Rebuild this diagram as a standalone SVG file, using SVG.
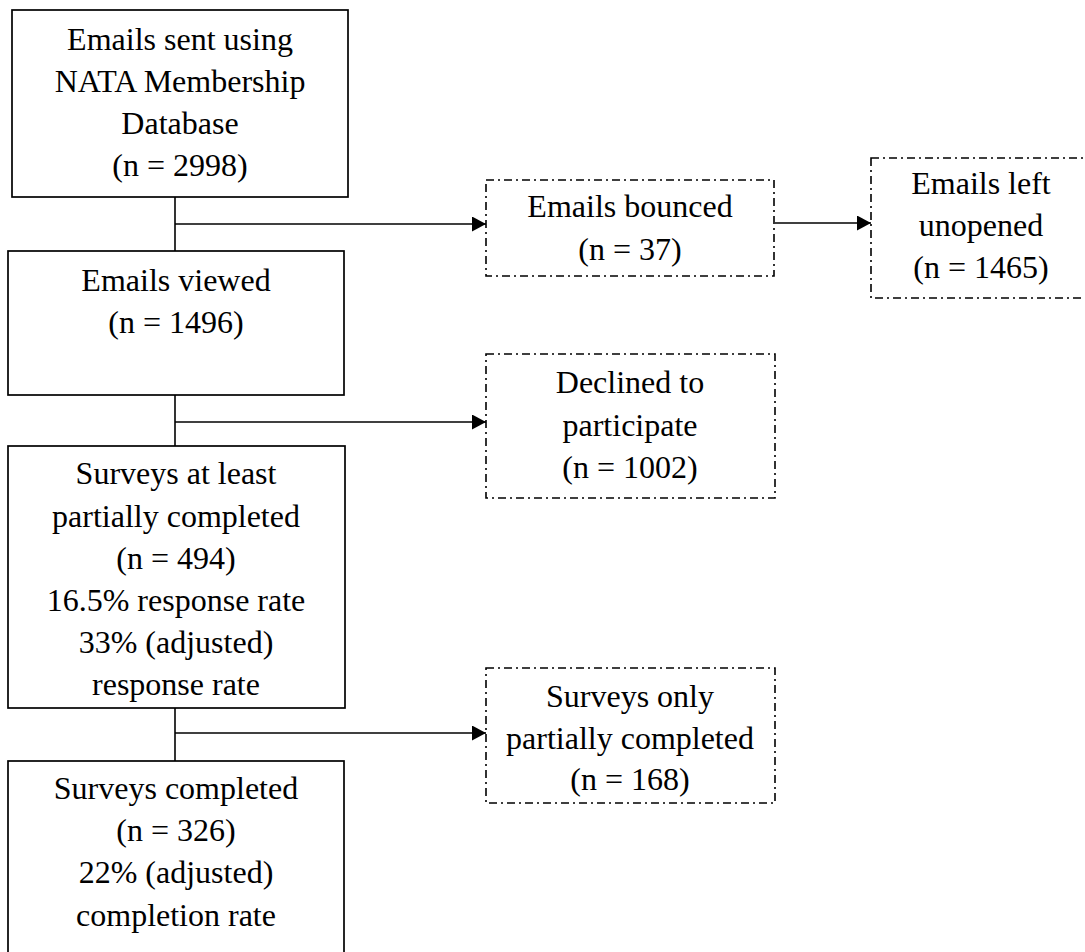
<svg xmlns="http://www.w3.org/2000/svg" width="1085" height="952" viewBox="0 0 1085 952">
<style>
.solid{fill:#fff;stroke:#000;stroke-width:1.7}
.dash{fill:#fff;stroke:#000;stroke-width:1.6;stroke-dasharray:8,4,2,4}
.conn{fill:none;stroke:#000;stroke-width:1.6}
text{font-family:"Liberation Serif","Times New Roman",serif;font-size:32px;fill:#000;text-anchor:middle}
</style>
<defs>
<marker id="ah" markerUnits="userSpaceOnUse" markerWidth="14" markerHeight="15" refX="14" refY="7.5" orient="auto">
<path d="M0,0 L14,7.5 L0,15 Z" fill="#000"/>
</marker>
</defs>
<rect width="1085" height="952" fill="#fff"/>
<g id="connectors">
<line class="conn" x1="175" y1="197" x2="175" y2="251"/>
<line class="conn" x1="175" y1="224" x2="486" y2="224" marker-end="url(#ah)"/>
<line class="conn" x1="775" y1="223" x2="871" y2="223" marker-end="url(#ah)"/>
<line class="conn" x1="175" y1="395" x2="175" y2="446"/>
<line class="conn" x1="175" y1="422" x2="486" y2="422" marker-end="url(#ah)"/>
<line class="conn" x1="175" y1="708" x2="175" y2="761"/>
<line class="conn" x1="175" y1="733" x2="486" y2="733" marker-end="url(#ah)"/>
</g>
<g id="n1">
<rect class="solid" x="12" y="10" width="336" height="187"/>
<text x="180" y="50">Emails sent using</text>
<text x="180" y="92">NATA Membership</text>
<text x="180" y="134">Database</text>
<text x="180" y="176">(n = 2998)</text>
</g>
<g id="n2">
<rect class="solid" x="8" y="251" width="336" height="144"/>
<text x="176" y="291">Emails viewed</text>
<text x="176" y="333">(n = 1496)</text>
</g>
<g id="n3">
<rect class="solid" x="8" y="446" width="337" height="262"/>
<text x="176" y="484">Surveys at least</text>
<text x="176" y="527">partially completed</text>
<text x="176" y="569">(n = 494)</text>
<text x="176" y="611">16.5% response rate</text>
<text x="176" y="653">33% (adjusted)</text>
<text x="176" y="695">response rate</text>
</g>
<g id="n4">
<rect class="solid" x="8" y="761" width="336" height="200"/>
<text x="176" y="799">Surveys completed</text>
<text x="176" y="841">(n = 326)</text>
<text x="176" y="883">22% (adjusted)</text>
<text x="176" y="926">completion rate</text>
</g>
<g id="n5">
<rect class="dash" x="486" y="180" width="288" height="96"/>
<text x="630" y="217">Emails bounced</text>
<text x="630" y="260">(n = 37)</text>
</g>
<g id="n6">
<rect class="dash" x="871" y="158" width="224" height="140"/>
<text x="981" y="194">Emails left</text>
<text x="981" y="236">unopened</text>
<text x="981" y="278">(n = 1465)</text>
</g>
<g id="n7">
<rect class="dash" x="486" y="354" width="289" height="144"/>
<text x="630" y="393">Declined to</text>
<text x="630" y="436">participate</text>
<text x="630" y="478">(n = 1002)</text>
</g>
<g id="n8">
<rect class="dash" x="486" y="668" width="289" height="135"/>
<text x="630" y="707">Surveys only</text>
<text x="630" y="749">partially completed</text>
<text x="630" y="790">(n = 168)</text>
</g>
</svg>
